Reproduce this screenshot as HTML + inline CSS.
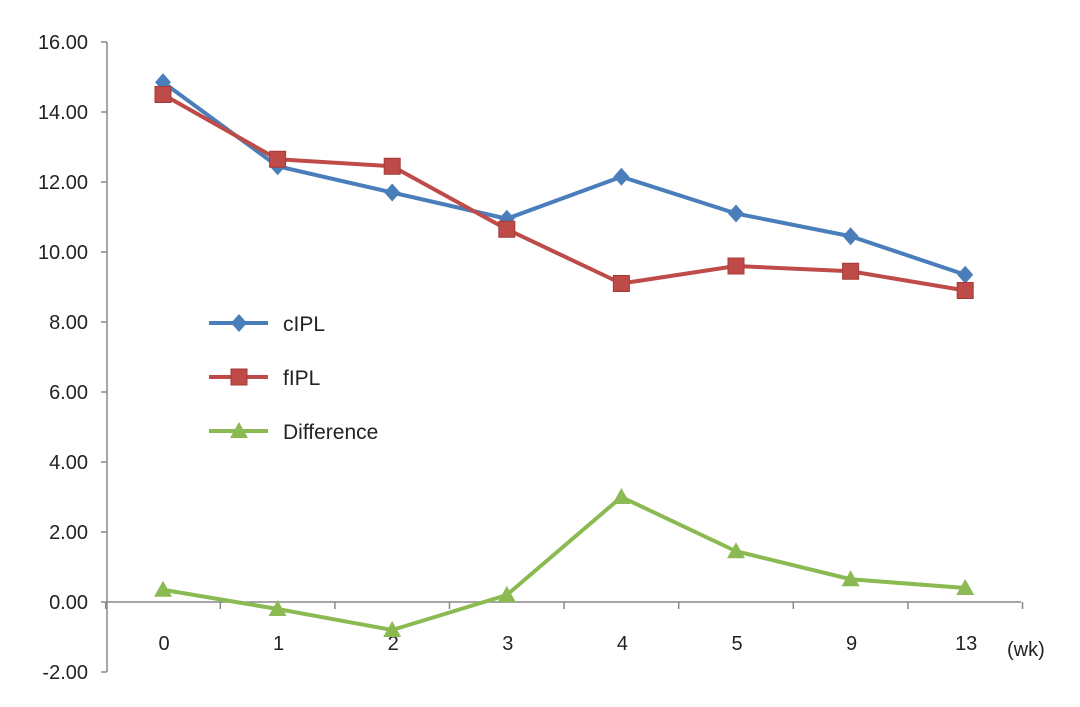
<!DOCTYPE html>
<html><head><meta charset="utf-8"><style>
html,body{margin:0;padding:0;background:#fff;}
svg{display:block;font-family:"Liberation Sans",sans-serif;}
</style></head><body>
<svg id="chart" width="1080" height="707" viewBox="0 0 1080 707" xmlns="http://www.w3.org/2000/svg">
<g id="axes"></g><g id="series"></g><g id="legend"></g>
</svg>
<script>
const categories=["0","1","2","3","4","5","9","13"];
const cIPL=[14.85,12.45,11.7,10.95,12.15,11.1,10.45,9.35];
const fIPL=[14.5,12.65,12.45,10.65,9.1,9.6,9.45,8.9];
const difference=[0.35,-0.2,-0.8,0.2,3.0,1.45,0.65,0.4];
const yTicks=[16,14,12,10,8,6,4,2,0,-2];
const NS="http://www.w3.org/2000/svg";
const y=v=>602-v*35;
const x=i=>163+i*114.6;
function mk(tag,attrs,parent){const e=document.createElementNS(NS,tag);for(const k in attrs)e.setAttribute(k,attrs[k]);parent.appendChild(e);return e;}
const axes=document.getElementById('axes');
const yAxis=mk('line',{x1:107,y1:y(16),x2:107,y2:y(-2),stroke:'#888','stroke-width':1.5},axes);


yTicks.forEach(v=>{
  const t=mk('text',{x:88,y:y(v)+7,'text-anchor':'end','font-size':20,fill:'#222'},axes);
  t.textContent=v.toFixed(2);
  
  
  const tk=mk('line',{x1:101,y1:y(v),x2:107,y2:y(v),stroke:'#888','stroke-width':1.5},axes);
  
  
});
const xAxis=mk('line',{x1:107,y1:y(0),x2:1021,y2:y(0),stroke:'#888','stroke-width':1.5},axes);


for(let i=0;i<=categories.length;i++){
  const tk=mk('line',{x1:x(i)-57.3,y1:y(0),x2:x(i)-57.3,y2:y(0)+7,stroke:'#888','stroke-width':1.5},axes);
  
  
}
categories.forEach((c,i)=>{
  const t=mk('text',{x:x(i)+1,y:650,'text-anchor':'middle','font-size':20,fill:'#222'},axes);
  t.textContent=c;
  
  
});
const unit=mk('text',{x:1007,y:656,'font-size':20,fill:'#222'},axes);
unit.textContent='(wk)';


const seriesG=document.getElementById('series');
function marker(type,cx,cy,color,parent){
  let m;
  if(type==='diamond')m=mk('polygon',{points:`${cx},${cy-9} ${cx+8},${cy} ${cx},${cy+9} ${cx-8},${cy}`,fill:color},parent);
  else if(type==='square')m=mk('rect',{x:cx-8,y:cy-8,width:16,height:16,fill:color,stroke:'#a33a36','stroke-width':1},parent);
  else m=mk('polygon',{points:`${cx},${cy-9} ${cx+9},${cy+7} ${cx-9},${cy+7}`,fill:color},parent);
  return m;
}
function drawSeries(vals,color,type,name){
  const g=mk('g',{},seriesG);
  
  
  const p=mk('polyline',{points:vals.map((v,i)=>x(i)+','+y(v)).join(' '),fill:'none',stroke:color,'stroke-width':4,'stroke-linejoin':'round'},g);
  
  
  vals.forEach((v,i)=>{
    const m=marker(type,x(i),y(v),color,g);
    
    
  });
}
drawSeries(cIPL,'#4a7ebb','diamond','cipl');
drawSeries(fIPL,'#be4b48','square','fipl');
drawSeries(difference,'#8cba52','triangle','difference');
const lg=document.getElementById('legend');


[['cIPL','#4a7ebb','diamond',323],['fIPL','#be4b48','square',377],['Difference','#8cba52','triangle',431]].forEach(([n,c,t,ly])=>{
  const g=mk('g',{},lg);
  
  
  mk('line',{x1:209,y1:ly,x2:268,y2:ly,stroke:c,'stroke-width':4},g);
  marker(t,239,ly,c,g);
  const tx=mk('text',{x:283,y:ly+8,'font-size':21,fill:'#222'},g);
  tx.textContent=n;
});
</script>
</body></html>
